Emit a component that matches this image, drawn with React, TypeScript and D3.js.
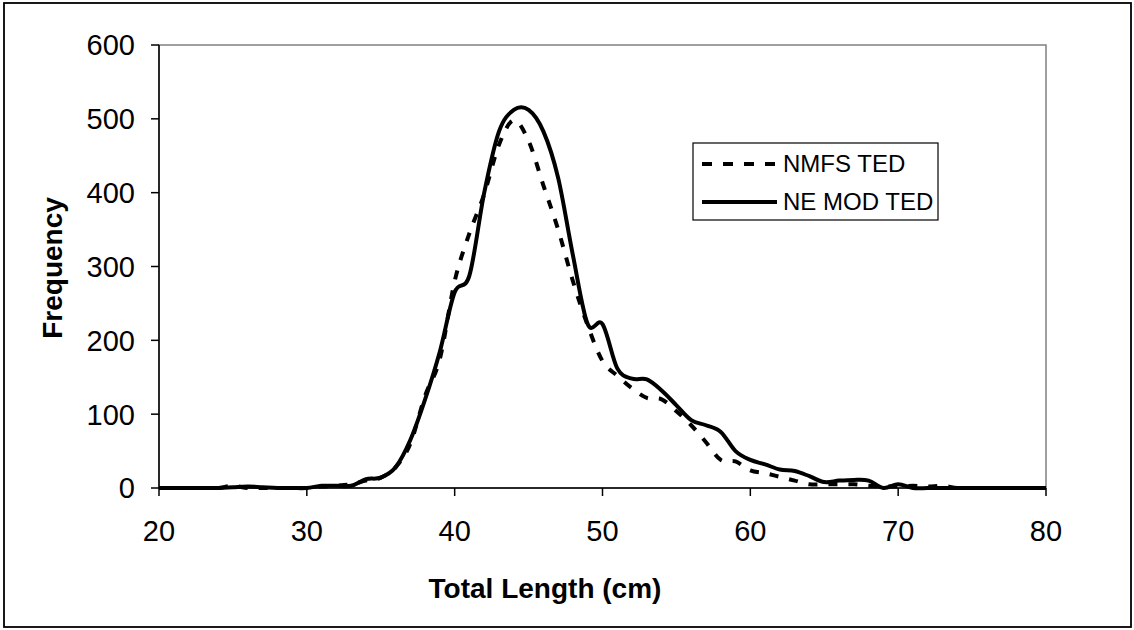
import * as d3 from 'd3';

// Total length categories (cm)
const lengths = [
  20, 21, 22, 23, 24, 25, 26, 27, 28, 29,
  30, 31, 32, 33, 34, 35, 36, 37, 38, 39,
  40, 41, 42, 43, 44, 45, 46, 47, 48, 49,
  50, 51, 52, 53, 54, 55, 56, 57, 58, 59,
  60, 61, 62, 63, 64, 65, 66, 67, 68, 69,
  70, 71, 72, 73, 74, 75, 76, 77, 78, 79, 80,
];

// NMFS TED (dashed)
const nmfsTed = [
  0, 0, 0, 0, 0, 3, 0, 0, 0, 0,
  0, 2, 3, 5, 10, 14, 28, 60, 125, 175,
  280, 345, 398, 465, 498, 470, 410, 350, 280, 220,
  172, 152, 135, 122, 120, 104, 85, 62, 38, 36,
  24, 20, 15, 10, 5, 5, 5, 5, 3, 2,
  2, 3, 2, 3, 0, 0, 0, 0, 0, 0, 0,
];

// NE MOD TED (solid)
const neModTed = [
  0, 0, 0, 0, 0, 1, 2, 1, 0, 0,
  0, 3, 3, 3, 12, 14, 28, 65, 120, 185,
  265, 288, 400, 483, 512, 512, 483, 420, 315, 222,
  222, 162, 148, 147, 132, 112, 92, 85, 76, 50,
  38, 32, 25, 23, 16, 8, 10, 11, 10, 0,
  5, 0, 0, 0, 0, 0, 0, 0, 0, 0, 0,
];

const xTicks = [20, 30, 40, 50, 60, 70, 80];
const yTicks = [0, 100, 200, 300, 400, 500, 600];

const seriesNames = ['NMFS TED', 'NE MOD TED'];

const W = 1134;
const H = 630;
const plot = { left: 159, right: 1046, top: 45, bottom: 488 };
const font = '"Liberation Sans", Arial, Helvetica, sans-serif';

export default function App() {
  const x = d3.scaleLinear().domain([20, 80]).range([plot.left, plot.right]);
  const y = d3.scaleLinear().domain([0, 600]).range([plot.bottom, plot.top]);

  const line = d3
    .line<number>()
    .x((_, i) => x(lengths[i]))
    .y((d) => y(d))
    .curve(d3.curveCardinal.tension(0));

  const dash = '9,11';

  return (
    <div style={{ position: 'absolute', left: 0, top: 0 }}>
      <svg width={W} height={H} style={{ display: 'block', background: '#fff' }}>
        {/* chart border */}
        <rect x={4} y={3} width={1127} height={624} fill="#fff" stroke="#000" strokeWidth={1.8} />

        {/* plot area border */}
        <rect
          x={plot.left}
          y={plot.top}
          width={plot.right - plot.left}
          height={plot.bottom - plot.top}
          fill="none"
          stroke="#808080"
          strokeWidth={1.5}
        />

        {/* y axis */}
        <line x1={plot.left} x2={plot.left} y1={plot.top} y2={plot.bottom} stroke="#000" strokeWidth={1.5} />
        {yTicks.map((t) => (
          <g key={'y' + t}>
            <line x1={plot.left - 8} x2={plot.left} y1={y(t)} y2={y(t)} stroke="#000" strokeWidth={1.5} />
            <text
              x={135}
              y={y(t)}
              dy="0.36em"
              textAnchor="end"
              fontFamily={font}
              fontSize={29}
              fill="#000"
            >
              {t}
            </text>
          </g>
        ))}

        {/* x axis */}
        <line x1={plot.left} x2={plot.right} y1={plot.bottom} y2={plot.bottom} stroke="#000" strokeWidth={1.5} />
        {xTicks.map((t) => (
          <g key={'x' + t}>
            <line x1={x(t)} x2={x(t)} y1={plot.bottom} y2={plot.bottom + 8} stroke="#000" strokeWidth={1.5} />
            <text x={x(t)} y={541} textAnchor="middle" fontFamily={font} fontSize={29} fill="#000">
              {t}
            </text>
          </g>
        ))}

        {/* series */}
        <path d={line(nmfsTed) ?? ''} fill="none" stroke="#000" strokeWidth={4} strokeDasharray={dash} />
        <path d={line(neModTed) ?? ''} fill="none" stroke="#000" strokeWidth={4} />

        {/* axis titles */}
        <text x={545} y={598} textAnchor="middle" fontFamily={font} fontSize={28} fontWeight="bold">
          Total Length (cm)
        </text>
        <text
          transform="translate(62,268) rotate(-90)"
          textAnchor="middle"
          fontFamily={font}
          fontSize={28}
          fontWeight="bold"
        >
          Frequency
        </text>

        {/* legend */}
        <rect x={693} y={143} width={245} height={77} fill="#fff" stroke="#000" strokeWidth={1.2} />
        <line x1={702} x2={777} y1={164} y2={164} stroke="#000" strokeWidth={4} strokeDasharray="10,11" />
        <text x={783} y={172} fontFamily={font} fontSize={24}>
          {seriesNames[0]}
        </text>
        <line x1={702} x2={777} y1={202} y2={202} stroke="#000" strokeWidth={4} />
        <text x={783} y={210} fontFamily={font} fontSize={24}>
          {seriesNames[1]}
        </text>
      </svg>
    </div>
  );
}
